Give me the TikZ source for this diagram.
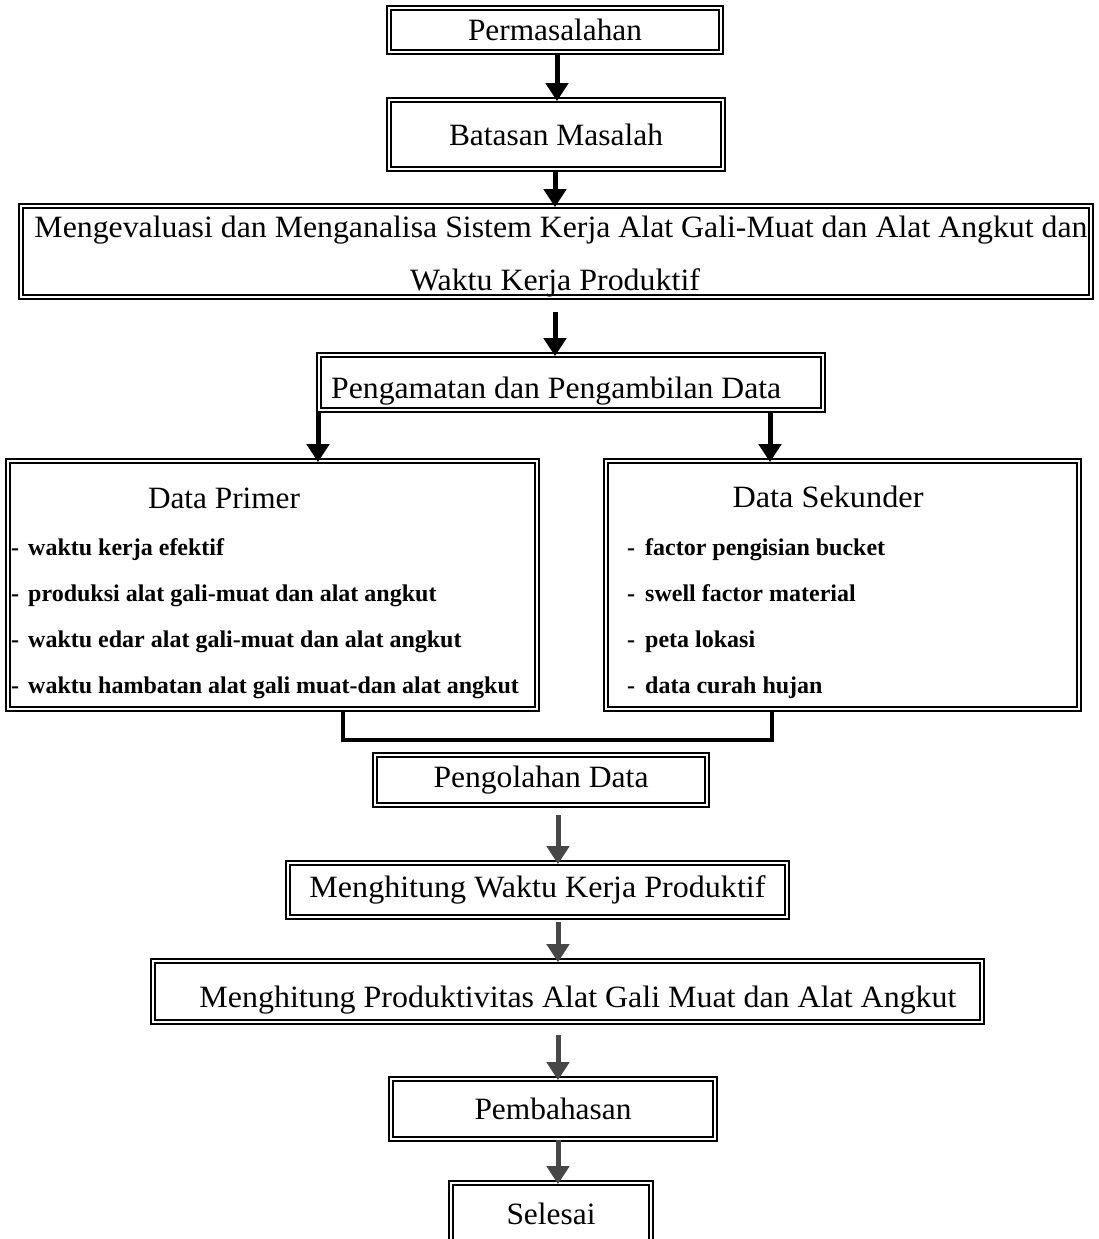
\documentclass[tikz,border=0pt]{standalone}
\usepackage{fontspec}
\setmainfont{Liberation Serif}
\usepackage{graphicx}
\usetikzlibrary{arrows.meta,calc}
\newcommand\fitw[2]{\resizebox{#1}{\height}{#2}}
\newcommand\bigtxt{\fontsize{31}{37}\selectfont}
\newcommand\itemtxt{\fontsize{24}{29}\selectfont\bfseries}
\begin{document}
\begin{tikzpicture}[x=1pt,y=-1pt,
  dbox/.style={draw, double, double distance=2.6pt, line width=1.7pt, inner sep=0pt,
    font=\bigtxt, align=center},
  flowarrow/.style={line width=5pt, -{Triangle[width=22pt,length=18pt]}, shorten >=-2pt},
  greyarrow/.style={flowarrow, draw=black!72},
  joinline/.style={line width=4.5pt, line join=miter},
  itemnode/.style={font=\itemtxt, anchor=base west, inner sep=0pt}]
\useasboundingbox (0,0) rectangle (1099,1239);
\fill[white] (0,0) rectangle (1099,1239);

% boxes
\node[dbox, minimum width=332pt, minimum height=44pt] (b1) at (555,30) {\fitw{174pt}{Permasalahan}};
\node[dbox, minimum width=334pt, minimum height=69pt] (b2) at (556,134.5) {\fitw{214pt}{Batasan Masalah}};
\node[dbox, minimum width=1070pt, minimum height=91pt] (b3) at (556,251.5) {};
\node[font=\bigtxt, anchor=base] (t3a) at (561,237) {\fitw{1053pt}{Mengevaluasi dan Menganalisa Sistem Kerja Alat Gali-Muat dan Alat Angkut dan}};
\node[font=\bigtxt, anchor=base] (t3b) at (555,290) {\fitw{290pt}{Waktu Kerja Produktif}};

\node[dbox, minimum width=504pt, minimum height=55pt] (b4) at (571,382.5) {};
\node[font=\bigtxt, anchor=base west, inner sep=0pt] (t4) at (331,398) {\fitw{450pt}{Pengamatan dan Pengambilan Data}};

\node[dbox, minimum width=529pt, minimum height=248pt] (b5) at (272.5,585) {};
\node[font=\bigtxt, anchor=base, inner sep=0pt] (t5) at (224,508) {\fitw{152pt}{Data Primer}};
\node[itemnode] (p1) at (11,555) {\makebox[17pt][l]{-}waktu kerja efektif};
\node[itemnode] (p2) at (11,601) {\makebox[17pt][l]{-}produksi alat gali-muat dan alat angkut};
\node[itemnode] (p3) at (11,647) {\makebox[17pt][l]{-}waktu edar alat gali-muat dan alat angkut};
\node[itemnode] (p4) at (11,693) {\makebox[17pt][l]{-}waktu hambatan alat gali muat-dan alat angkut};

\node[dbox, minimum width=473pt, minimum height=248pt] (b6) at (842.5,585) {};
\node[font=\bigtxt, anchor=base, inner sep=0pt] (t6) at (828,507) {\fitw{191pt}{Data Sekunder}};
\node[itemnode] (s1) at (627,555) {\makebox[18pt][l]{-}factor pengisian bucket};
\node[itemnode] (s2) at (627,601) {\makebox[18pt][l]{-}swell factor material};
\node[itemnode] (s3) at (627,647) {\makebox[18pt][l]{-}peta lokasi};
\node[itemnode] (s4) at (627,693) {\makebox[18pt][l]{-}data curah hujan};

\node[dbox, minimum width=332pt, minimum height=50pt] (b7) at (541,780) {\fitw{215pt}{Pengolahan Data}};
\node[dbox, minimum width=499pt, minimum height=54pt] (b8) at (537.5,890) {\fitw{456pt}{Menghitung Waktu Kerja Produktif}};
\node[dbox, minimum width=829pt, minimum height=61pt] (b9) at (567.5,991.5) {};
\node[font=\bigtxt, anchor=base] (t9) at (578,1007) {\fitw{757pt}{Menghitung Produktivitas Alat Gali Muat dan Alat Angkut}};
\node[dbox, minimum width=324pt, minimum height=60pt] (b10) at (553,1109) {\fitw{157pt}{Pembahasan}};
\node[dbox, minimum width=200pt, minimum height=62pt] (b11) at (551,1214) {\fitw{89pt}{Selesai}};

% arrow guide coordinates
\coordinate (xa) at (557,0);
\coordinate (xb) at (555,0);
\coordinate (xl) at (318,0);
\coordinate (xr) at (770,0);
\coordinate (xg) at (558,0);
\coordinate (a3s) at (555,312);
\coordinate (a6s) at (558,815);
\coordinate (a7s) at (558,922);
\coordinate (a8s) at (558,1035);

% connectors
\draw[flowarrow] (b1.south -| xa) -- (b2.north -| xa);
\draw[flowarrow] (b2.south -| xb) -- (b3.north -| xb);
\draw[flowarrow] (a3s) -- (b4.north -| a3s);
\draw[flowarrow] (b4.south -| xl) -- (b5.north -| xl);
\draw[flowarrow] (b4.south -| xr) -- (b6.north -| xr);
\coordinate (jl) at (343,740);
\coordinate (jr) at (772,740);
\draw[joinline] (b5.south -| jl) -- (jl) -- (jr) -- (b6.south -| jr);
\draw[greyarrow] (a6s) -- (b8.north -| a6s);
\draw[greyarrow] (a7s) -- (b9.north -| a7s);
\draw[greyarrow] (a8s) -- (b10.north -| a8s);
\draw[greyarrow] (b10.south -| xg) -- (b11.north -| xg);
\end{tikzpicture}
\end{document}
